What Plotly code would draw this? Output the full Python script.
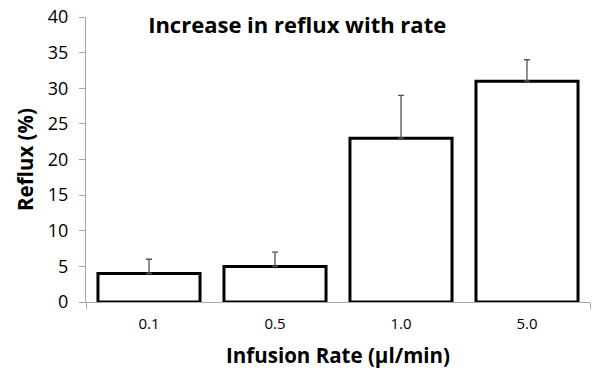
import plotly.graph_objects as go

categories = ["0.1", "0.5", "1.0", "5.0"]
reflux = [4, 5, 23, 31]
err_plus = [2, 2, 6, 3]
y_ticks = [0, 5, 10, 15, 20, 25, 30, 35, 40]

FONT = "'Open Sans', sans-serif"
GRAY = "#a6a6a6"

x_pos = list(range(len(categories)))

fig = go.Figure()
fig.add_trace(go.Bar(
    x=x_pos, y=reflux,
    marker=dict(color="white", line=dict(color="black", width=3)),
    error_y=dict(type="data", array=err_plus, arrayminus=[0]*len(err_plus),
                 symmetric=False, color="#555555", thickness=1.3, width=3),
    width=0.81,
))

fig.update_layout(
    width=595, height=369,
    margin=dict(l=86, r=5, t=17, b=67),
    paper_bgcolor="white", plot_bgcolor="white",
    showlegend=False,
    font=dict(family=FONT, color="black"),
    title=dict(text="<b>Increase in reflux with rate</b>", x=0.419, xref="paper",
               xanchor="center", y=0.972, yref="paper", yanchor="middle",
               font=dict(size=22, family=FONT, color="black"), automargin=False),
    xaxis=dict(
        range=[-0.5, 3.5], tickvals=x_pos, ticktext=categories,
        ticks="", showgrid=False, zeroline=False, automargin=False,
        showline=True, linecolor=GRAY, linewidth=1,
        tickfont=dict(size=15), ticklabelstandoff=8,
        minor=dict(tickvals=[-0.5, 3.5], ticks="outside", ticklen=6, tickcolor=GRAY, tickwidth=1),
        title=dict(text="<b>Infusion Rate (µl/min)</b>", font=dict(size=20.5), standoff=16),
    ),
    yaxis=dict(
        range=[0, 40], tickvals=y_ticks, ticks="outside", ticklen=6, tickcolor=GRAY,
        showgrid=False, zeroline=False, showline=True, linecolor=GRAY, linewidth=1,
        automargin=False, tickfont=dict(size=18), ticklabelstandoff=7,
        ticklabeloverflow="allow",
        title=dict(text="<b>Reflux (%)</b>", font=dict(size=20.5), standoff=8),
    ),
)

fig.write_html("out.html",
               config={"displayModeBar": False, "staticPlot": True},
               post_script="document.body.style.margin='0';document.body.style.overflow='hidden';")
